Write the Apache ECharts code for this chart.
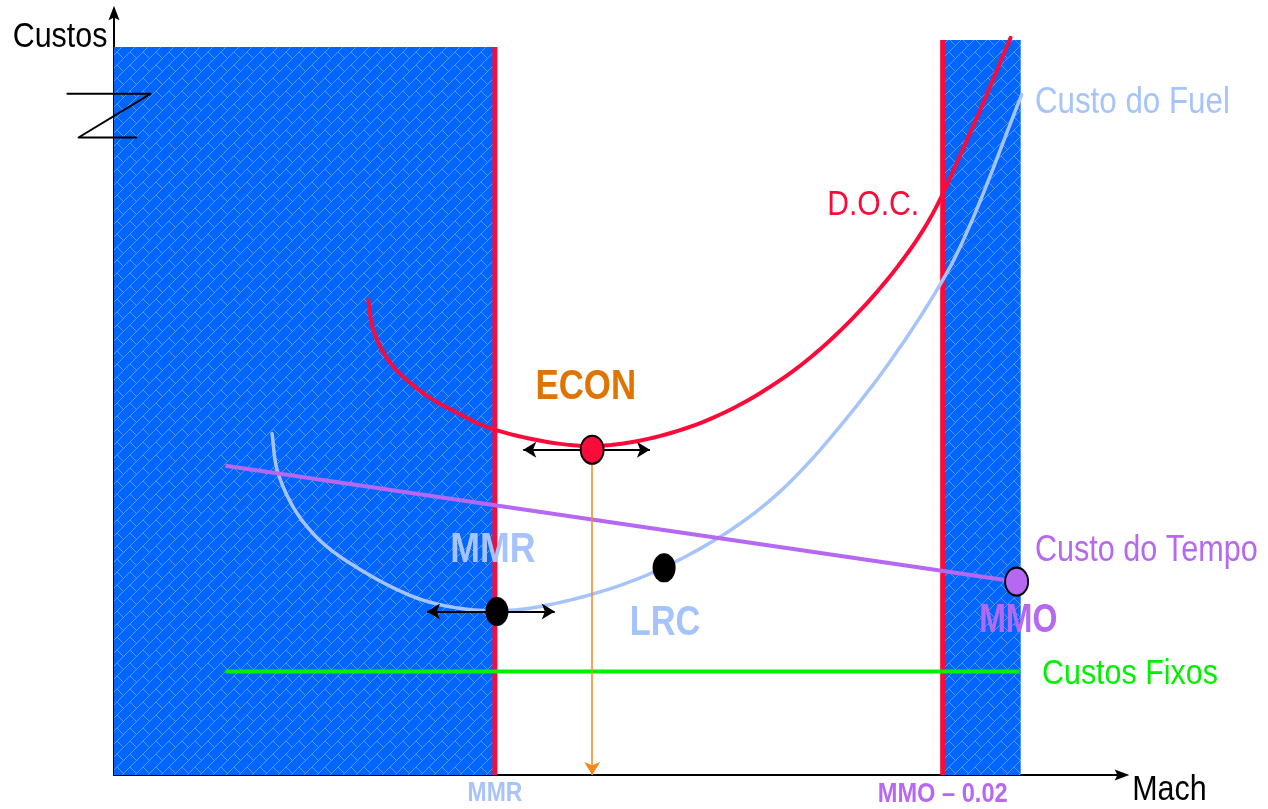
<!DOCTYPE html>
<html>
<head>
<meta charset="utf-8">
<script src="https://cdn.jsdelivr.net/npm/echarts@6/dist/echarts.min.js"></script>
<style>
  html, body { margin: 0; padding: 0; background: #ffffff; }
  #chart { width: 1268px; height: 809px; }
</style>
</head>
<body>
<div id="chart"></div>
<script>
// ---- Values in chart units (x: Mach scale, y: cost scale, both relative) ----
const docCurve = [
  [25.1, 61.9], [25.6, 58.0], [27.3, 53.7], [30.5, 49.8], [33.9, 47.2],
  [37.6, 45.0], [47.2, 42.9], [56.9, 45.4], [65.8, 51.5], [73.4, 60.2],
  [79.9, 71.1], [84.2, 82.8], [88.5, 96.1]
];
const fuelCurve = [
  [15.6, 44.5], [16.1, 39.8], [17.7, 34.9], [20.0, 31.0], [23.3, 27.6],
  [30.5, 22.8], [37.8, 21.4], [45.0, 22.8], [54.2, 27.0], [64.5, 35.5],
  [74.3, 49.8], [81.8, 64.5], [84.5, 71.7], [89.6, 88.7]
];
const timeCost = [[11.0, 40.3], [89.1, 25.2]];
const fixedCost = [[11.0, 13.5], [89.4, 13.5]];

const machMMR = 37.6;        // minimum-range boundary
const machMMOminus = 81.8;   // MMO - 0.02 boundary
const machBandEnd = 89.5;    // end of the upper restricted band
const bandTops = [94.9, 95.8];

const econPoint = [47.2, 42.4];
const mmrPoint = [37.8, 21.3];
const lrcPoint = [54.3, 27.0];
const mmoPoint = [89.1, 25.2];

const econRange = [40.4, 52.9];  // ECON adjustment arrows
const mmrRange = [30.9, 43.5];   // MMR adjustment arrows

const axisBreak = [[-4.6, 88.8], [3.6, 88.8], [-3.5, 83.1], [2.2, 83.1]];

// ---- Colours ----
const RED = '#fb0a3a';
const FUEL = '#a6c4fb';
const PURPLE = '#b668f2';
const GREEN = '#00f000';
const ORANGE = '#e07400';
const FONT = '"Liberation Sans", Arial, sans-serif';

// Diagonal brick pattern used for the restricted speed bands
function brickPattern() {
  const a = 13;
  const H = a / Math.SQRT2, W = a * Math.SQRT2;
  const c = document.createElement('canvas');
  c.width = a; c.height = a;
  const ctx = c.getContext('2d');
  ctx.fillStyle = '#0066ff';
  ctx.fillRect(0, 0, a, a);
  ctx.strokeStyle = 'rgba(120,172,255,0.7)';
  ctx.lineWidth = 1;
  const u = [1 / Math.SQRT2, -1 / Math.SQRT2];
  const v = [1 / Math.SQRT2, 1 / Math.SQRT2];
  const pt = (s, t) => [s * u[0] + t * v[0], s * u[1] + t * v[1]];
  ctx.beginPath();
  for (let k = -4; k <= 4; k++) {
    const p0 = pt(-4 * a, k * H), p1 = pt(4 * a, k * H);
    ctx.moveTo(p0[0], p0[1]); ctx.lineTo(p1[0], p1[1]);
    for (let j = -4; j <= 4; j++) {
      const s = j * W + (((k % 2) + 2) % 2) * W / 2;
      const q0 = pt(s, k * H), q1 = pt(s, (k + 1) * H);
      ctx.moveTo(q0[0], q0[1]); ctx.lineTo(q1[0], q1[1]);
    }
  }
  ctx.stroke();
  return c;
}
const pattern = { image: brickPattern(), repeat: 'repeat' };

// Centripetal Catmull-Rom through pixel points
function catmullRom(pts, steps) {
  if (pts.length < 3) return pts;
  const out = [];
  const ext = [
    [2 * pts[0][0] - pts[1][0], 2 * pts[0][1] - pts[1][1]],
    ...pts,
    [2 * pts[pts.length - 1][0] - pts[pts.length - 2][0], 2 * pts[pts.length - 1][1] - pts[pts.length - 2][1]]
  ];
  const d = (a, b) => Math.pow(Math.hypot(b[0] - a[0], b[1] - a[1]), 0.5) || 1e-4;
  for (let i = 1; i < ext.length - 2; i++) {
    const p0 = ext[i - 1], p1 = ext[i], p2 = ext[i + 1], p3 = ext[i + 2];
    const t0 = 0, t1 = t0 + d(p0, p1), t2 = t1 + d(p1, p2), t3 = t2 + d(p2, p3);
    for (let s = 0; s < steps; s++) {
      const t = t1 + (t2 - t1) * s / steps;
      const lerp = (a, b, ta, tb) => [
        ((tb - t) * a[0] + (t - ta) * b[0]) / (tb - ta),
        ((tb - t) * a[1] + (t - ta) * b[1]) / (tb - ta)
      ];
      const A1 = lerp(p0, p1, t0, t1), A2 = lerp(p1, p2, t1, t2), A3 = lerp(p2, p3, t2, t3);
      const B1 = lerp(A1, A2, t0, t2), B2 = lerp(A2, A3, t1, t3);
      out.push(lerp(B1, B2, t1, t2));
    }
  }
  out.push(pts[pts.length - 1]);
  return out;
}

// Custom series drawing a curve (or polyline) through an array of chart-unit points
function curveSeries(name, points, color, width, smooth, z) {
  return {
    name: name, type: 'custom', z: z, silent: true, clip: false,
    data: [0],
    renderItem: function (params, api) {
      const px = points.map(p => api.coord(p));
      return {
        type: 'polyline',
        shape: { points: smooth ? catmullRom(px, 16) : px },
        style: { stroke: color, lineWidth: width, fill: null, lineJoin: 'round', lineCap: 'round' }
      };
    }
  };
}

// Text annotations (anchor in chart units, left edge / vertical middle)
const labels = [
  { text: 'Custos', at: [-10.0, 96.2], color: '#000', size: 35, bold: false, sx: 0.87 },
  { text: 'Custo do Fuel', at: [90.9, 87.6], color: FUEL, size: 36, bold: false, sx: 0.87 },
  { text: 'D.O.C.', at: [70.4, 74.2], color: RED, size: 35, bold: false, sx: 0.86 },
  { text: 'ECON', at: [41.6, 50.5], color: ORANGE, size: 42, bold: true, sx: 0.83 },
  { text: 'MMR', at: [33.2, 29.3], color: FUEL, size: 42, bold: true, sx: 0.85 },
  { text: 'LRC', at: [50.9, 19.7], color: FUEL, size: 42, bold: true, sx: 0.82 },
  { text: 'MMO', at: [85.4, 20.1], color: PURPLE, size: 40, bold: true, sx: 0.8 },
  { text: 'Custo do Tempo', at: [90.9, 29.2], color: PURPLE, size: 36, bold: false, sx: 0.85 },
  { text: 'Custos Fixos', at: [91.6, 13.1], color: GREEN, size: 35, bold: false, sx: 0.87 },
  { text: 'Mach', at: [100.5, -2.0], color: '#000', size: 35, bold: false, sx: 0.87 },
  { text: 'MMR', at: [machMMR, -2.4], color: FUEL, size: 27, bold: true, sx: 0.85, center: true },
  { text: 'MMO \u2013 0.02', at: [machMMOminus, -2.6], color: PURPLE, size: 27, bold: true, sx: 0.875, center: true }
];

const chart = echarts.init(document.getElementById('chart'), null, { renderer: 'canvas' });

const vline = (x, top) => [[x, 0], [x, top]];
const axisArrow = 'path://M6,0L12,16L6,13L0,16Z';

const option = {
  animation: false,
  backgroundColor: '#ffffff',
  grid: { left: 114, top: 14, width: 1008, height: 761 },
  xAxis: {
    type: 'value', min: 0, max: 99.5,
    axisLine: { show: true, onZero: false, symbol: ['none', axisArrow], symbolSize: [11, 15], symbolOffset: [0, 0],
      lineStyle: { color: '#000', width: 2 } },
    axisTick: { show: false }, axisLabel: { show: false }, splitLine: { show: false }
  },
  yAxis: {
    type: 'value', min: 0, max: 99.2,
    axisLine: { show: true, onZero: false, symbol: ['none', axisArrow], symbolSize: [11, 15], symbolOffset: [0, 1],
      lineStyle: { color: '#000', width: 2 } },
    axisTick: { show: false }, axisLabel: { show: false }, splitLine: { show: false }
  },
  series: [
    {
      name: 'bands', type: 'custom', z: 1, silent: true,
      data: [[0, machMMR, bandTops[0]], [machMMOminus, machBandEnd, bandTops[1]]],
      renderItem: function (params, api) {
        const p0 = api.coord([api.value(0), 0]);
        const p1 = api.coord([api.value(1), api.value(2)]);
        return {
          type: 'rect',
          shape: { x: p0[0], y: p1[1], width: p1[0] - p0[0], height: p0[1] - p1[1] },
          style: { fill: pattern }
        };
      }
    },
    { name: 'MMR limit', type: 'line', z: 2, data: vline(machMMR, bandTops[0]), showSymbol: false,
      lineStyle: { color: RED, width: 5 } },
    { name: 'MMO limit', type: 'line', z: 2, data: vline(machMMOminus, bandTops[1]), showSymbol: false,
      lineStyle: { color: RED, width: 5 } },
    { name: 'Custos Fixos', type: 'line', z: 3, data: fixedCost, showSymbol: false,
      lineStyle: { color: GREEN, width: 4 } },
    { name: 'Custo do Tempo', type: 'line', z: 3, data: timeCost, showSymbol: false,
      lineStyle: { color: PURPLE, width: 4 } },
    curveSeries('Custo do Fuel', fuelCurve, FUEL, 3.5, true, 3),
    curveSeries('D.O.C.', docCurve, RED, 4, true, 3),
    curveSeries('axis break', axisBreak, '#000', 2, false, 4),
    {
      name: 'arrows', type: 'line', z: 4, data: [],
      markLine: {
        silent: true, symbolSize: [12, 13], label: { show: false },
        lineStyle: { color: '#000', width: 2, type: 'solid' },
        data: [
          [{ coord: [econRange[0], econPoint[1]], symbol: 'arrow' }, { coord: [econRange[1], econPoint[1]], symbol: 'arrow' }],
          [{ coord: [mmrRange[0], mmrPoint[1]], symbol: 'arrow' }, { coord: [mmrRange[1], mmrPoint[1]], symbol: 'arrow' }],
          [{ coord: [econPoint[0], econPoint[1]], symbol: 'none', lineStyle: { color: '#f08a1c', width: 1.5 } },
           { coord: [econPoint[0], 0], symbol: 'arrow', symbolSize: [12, 13] }]
        ]
      }
    },
    { name: 'ECON', type: 'scatter', z: 5, data: [econPoint], symbol: 'circle', symbolSize: [23, 28],
      itemStyle: { color: RED, borderColor: '#000', borderWidth: 2, opacity: 1 } },
    { name: 'MMR', type: 'scatter', z: 5, data: [mmrPoint], symbol: 'circle', symbolSize: [23, 29],
      itemStyle: { color: '#000', opacity: 1 } },
    { name: 'LRC', type: 'scatter', z: 5, data: [lrcPoint], symbol: 'circle', symbolSize: [23, 29],
      itemStyle: { color: '#000', opacity: 1 } },
    { name: 'MMO', type: 'scatter', z: 5, data: [mmoPoint], symbol: 'circle', symbolSize: [23, 28],
      itemStyle: { color: PURPLE, borderColor: '#000', borderWidth: 2, opacity: 1 } },
    {
      name: 'labels', type: 'custom', z: 6, silent: true, clip: false,
      data: labels.map((l, i) => [l.at[0], l.at[1], i]),
      renderItem: function (params, api) {
        const l = labels[api.value(2)];
        const p = api.coord([api.value(0), api.value(1)]);
        return {
          type: 'text', x: p[0], y: p[1], scaleX: l.sx,
          style: {
            x: 0, y: 0, text: l.text, fill: l.color,
            font: (l.bold ? 'bold ' : '') + l.size + 'px ' + FONT,
            align: l.center ? 'center' : 'left', verticalAlign: 'middle'
          }
        };
      }
    }
  ]
};

chart.setOption(option);
</script>
</body>
</html>
